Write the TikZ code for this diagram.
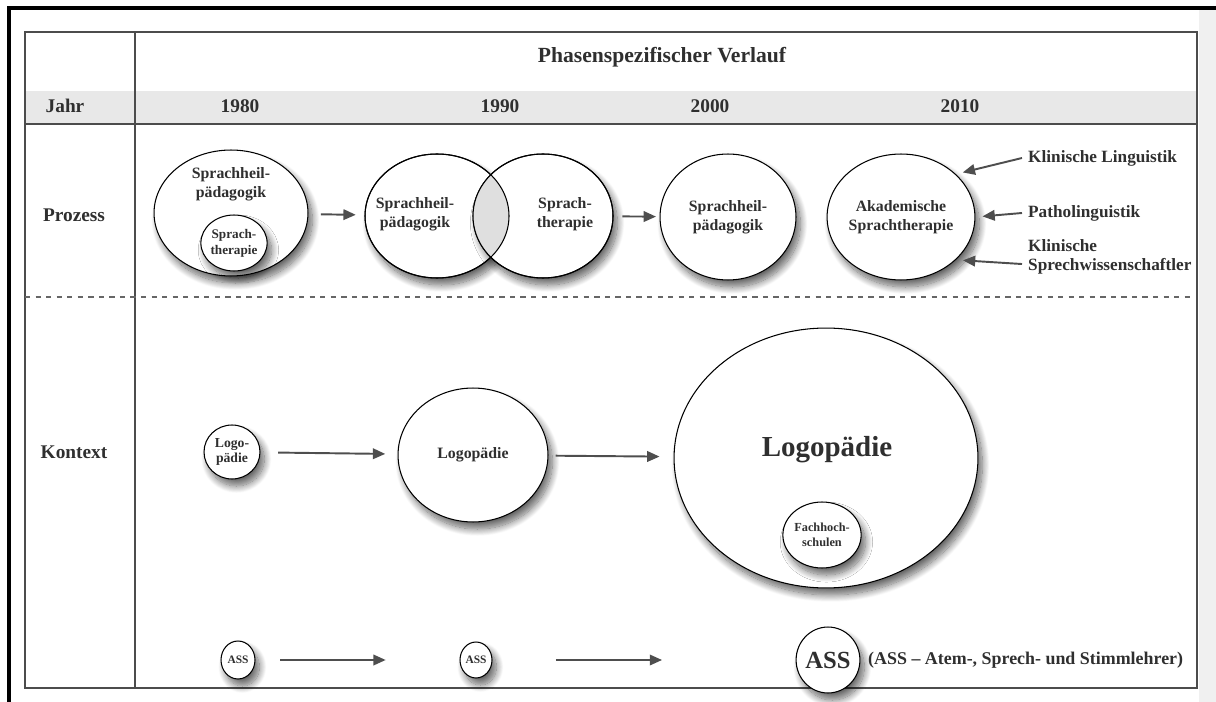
\documentclass[tikz,border=0pt]{standalone}
\usepackage{fontspec}
\setmainfont{Liberation Serif}
\usetikzlibrary{shapes.geometric,arrows.meta,shadows.blur,positioning}
\definecolor{ink}{HTML}{2F2F2F}

\begin{document}
\begin{tikzpicture}[x=0.02cm, y=-0.02cm,
    every node/.append style={font=\bfseries, text=ink},
    radii/.style 2 args={minimum width=#1*0.04cm, minimum height=#2*0.04cm},
    bubble/.style={ellipse, draw=black, line width=0.6pt, fill=white, inner sep=0pt, align=center,
      blur shadow={shadow xshift=2.5pt, shadow yshift=-4pt, shadow blur radius=4pt, shadow blur steps=14, shadow opacity=60}},
    flow/.style={draw=ink!85, line width=1.1pt, -{Triangle[length=7pt,width=6pt]}},
    grid/.style={draw=black!70, line width=0.6pt},
    side/.style={anchor=west, align=left, font=\bfseries\fontsize{9.8}{11}\selectfont}]
  \useasboundingbox (0,0) rectangle (1216,702);
  % table
  \fill[gray!12] (1199,10) rectangle (1216,702);
  \fill[gray!18] (25,91) rectangle (1197,124);
  \draw[grid] (25,32) rectangle (1197,688);
  \draw[grid] (25,124) -- (1197,124);
  \draw[grid] (135,32) -- (135,688);
  \draw[black!60, dashed, line width=0.6pt] (25,297) -- (1190,297);
  \draw[line width=1.8pt] (9,702) -- (9,8) -- (1216,8);
  \node (title) at (662,57) {\fontsize{12.3}{14}\selectfont Phasenspezifischer Verlauf};
  \node[font=\bfseries\fontsize{11}{13}\selectfont] (jahr) at (65,106) {Jahr};
  \node[font=\bfseries\fontsize{11}{13}\selectfont] (y1980) at (240,106) {1980};
  \node[font=\bfseries\fontsize{11}{13}\selectfont] (y1990) at (500,106) {1990};
  \node[font=\bfseries\fontsize{11}{13}\selectfont] (y2000) at (710,106) {2000};
  \node[font=\bfseries\fontsize{11}{13}\selectfont] (y2010) at (960,106) {2010};
  \node[font=\bfseries\fontsize{11}{13}\selectfont] (prozess) at (74,215) {Prozess};
  \node[font=\bfseries\fontsize{11}{13}\selectfont] (kontext) at (74,452) {Kontext};

  % Prozess
  \node[bubble, radii={77}{63}] (spa) at (231,213) {};
  \node[font=\bfseries\fontsize{9}{11}\selectfont, align=center] (spatxt) at (231,184) {Sprachheil-\\pädagogik};
  \node[bubble, radii={31}{28}, font=\bfseries\fontsize{7.5}{9}\selectfont] (spb) at (234,243) {Sprach-\\therapie};
  \node[bubble, radii={72}{62}] (vl) at (437,216) {};
  \node[bubble, radii={70}{62}] (vr) at (543,216) {};
  \begin{scope}
    \clip (vl.center) ellipse [x radius=72, y radius=62];
    \fill[gray!25] (vr.center) ellipse [x radius=70, y radius=62];
  \end{scope}
  \draw[line width=0.6pt] (vl.center) ellipse [x radius=72, y radius=62];
  \draw[line width=0.6pt] (vr.center) ellipse [x radius=70, y radius=62];
  \node[font=\bfseries\fontsize{9}{11}\selectfont, align=center] (vltxt) at (415,214) {Sprachheil-\\pädagogik};
  \node[font=\bfseries\fontsize{9}{11}\selectfont, align=center] (vrtxt) at (565,214) {Sprach-\\therapie};
  \node[bubble, radii={68}{63}, font=\bfseries\fontsize{9}{11}\selectfont] (spc) at (728,217) {Sprachheil-\\pädagogik};
  \node[bubble, radii={69}{63}, font=\bfseries\fontsize{9}{11}\selectfont] (akad) at (901,217) {Akademische\\Sprachtherapie};
  \draw[flow, shorten <=7pt, shorten >=5pt] (spa) -- (vl);
  \draw[flow, shorten <=5pt, shorten >=2pt] (vr) -- (spc);
  \node[side] (kling) at (1022,158) {Klinische Linguistik};
  \node[side] (patho) at (1022,213) {Patholinguistik};
  \node[side] (sprech) at (1022,257) {Klinische\\Sprechwissenschaftler};
  \draw[flow, shorten >=4pt] (kling.west) -- (akad.38);
  \draw[flow, shorten >=4pt] (patho.west) -- (akad.east);
  \draw[flow, shorten >=4pt] ([yshift=-4pt]sprech.west) -- (akad.-38);

  % Kontext
  \node[bubble, radii={28}{27}, font=\bfseries\fontsize{7.8}{9}\selectfont] (logo1) at (232,452) {Logo-\\pädie};
  \node[bubble, radii={75}{67}, font=\bfseries\fontsize{9}{11}\selectfont] (logo2) at (473,455) {Logopädie};
  \node[bubble, radii={152}{130}] (logo3) at (826,458) {};
  \node[font=\bfseries\fontsize{16.5}{18}\selectfont] (logo3txt) at (827,450) {Logopädie};
  \node[bubble, radii={34}{33}, font=\bfseries\fontsize{7}{8.5}\selectfont] (fh) at (822,535) {Fachhoch-\\schulen};
  \draw[flow, shorten <=10pt, shorten >=7pt] (logo1) -- (logo2);
  \draw[flow, shorten <=4pt, shorten >=8pt] (logo2) -- (logo3);

  % ASS
  \node[bubble, radii={17}{19}, font=\bfseries\fontsize{6.5}{7}\selectfont] (ass1) at (238,660) {ASS};
  \node[bubble, radii={16}{18}, font=\bfseries\fontsize{6.5}{7}\selectfont] (ass2) at (476,660) {ASS};
  \node[bubble, radii={30}{33}, font=\bfseries\fontsize{14}{16}\selectfont] (ass3) at (828,660) {ASS};
  \node[anchor=west, font=\bfseries\fontsize{10.2}{11}\selectfont] (asstxt) at (862,660) {(ASS -- Atem-, Sprech- und Stimmlehrer)};
  \draw[flow, shorten <=14pt, shorten >=42pt] (ass1) -- (ass2);
  \draw[flow, shorten <=36pt, shorten >=76pt] (ass2) -- (ass3);
\end{tikzpicture}
\end{document}
